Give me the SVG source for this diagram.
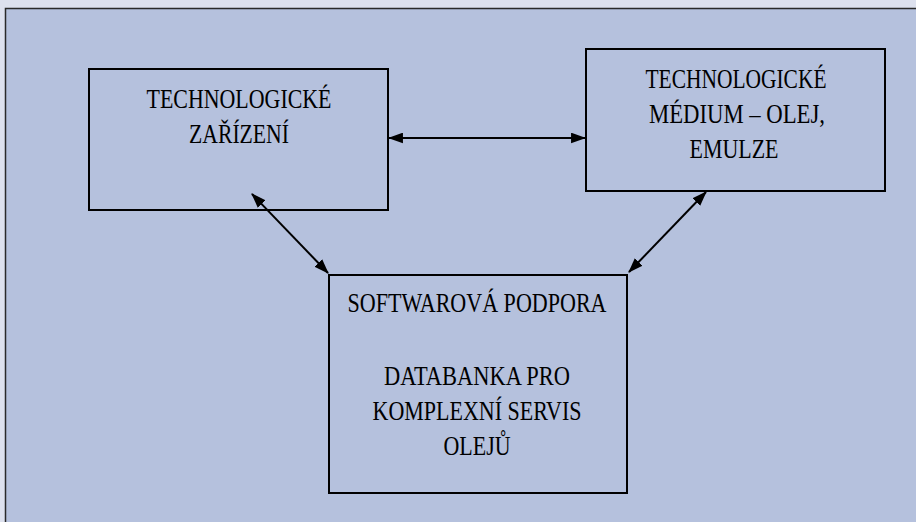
<svg xmlns="http://www.w3.org/2000/svg" width="916" height="522" viewBox="0 0 916 522">
<style>
.box{fill:none;stroke:#000;stroke-width:2}
.t{font-family:"Liberation Serif","Times New Roman",serif;font-size:28px;fill:#000;text-anchor:middle}
.c{stroke:#000;stroke-width:2;fill:none;marker-start:url(#ah);marker-end:url(#ah)}
</style>
<defs>
<marker id="ah" viewBox="0 0 14 10" refX="13" refY="5" markerUnits="userSpaceOnUse" markerWidth="15" markerHeight="11" orient="auto-start-reverse">
<path d="M0,0 L14,5 L0,10 Z" fill="#000"/>
</marker>
</defs>
<rect x="0" y="0" width="916" height="522" fill="#dde1ee"/>
<rect x="5.5" y="8.5" width="920" height="520" fill="#b5c1dd" stroke="#2a2a2a" stroke-width="1.5"/>
<g id="connectors">
<line class="c" x1="389" y1="138" x2="585" y2="138"/>
<line class="c" x1="252" y1="194" x2="328" y2="273"/>
<line class="c" x1="706" y1="192" x2="629" y2="272"/>
</g>
<g id="node-zarizeni">
<rect class="box" x="89" y="69" width="299" height="141"/>
<text class="t" x="239" y="108" textLength="185" lengthAdjust="spacingAndGlyphs">TECHNOLOGICKÉ</text>
<text class="t" x="239" y="143" textLength="100" lengthAdjust="spacingAndGlyphs">ZAŘÍZENÍ</text>
</g>
<g id="node-medium">
<rect class="box" x="586" y="49" width="299" height="142"/>
<text class="t" x="736" y="88" textLength="181" lengthAdjust="spacingAndGlyphs">TECHNOLOGICKÉ</text>
<text class="t" x="737" y="123" textLength="176" lengthAdjust="spacingAndGlyphs">MÉDIUM – OLEJ,</text>
<text class="t" x="734" y="158" textLength="89" lengthAdjust="spacingAndGlyphs">EMULZE</text>
</g>
<g id="node-software">
<rect class="box" x="329" y="275" width="298" height="218"/>
<text class="t" x="477" y="312" textLength="259" lengthAdjust="spacingAndGlyphs">SOFTWAROVÁ PODPORA</text>
<text class="t" x="477" y="385" textLength="186" lengthAdjust="spacingAndGlyphs">DATABANKA PRO</text>
<text class="t" x="477" y="420" textLength="209" lengthAdjust="spacingAndGlyphs">KOMPLEXNÍ SERVIS</text>
<text class="t" x="477" y="455" textLength="67" lengthAdjust="spacingAndGlyphs">OLEJŮ</text>
</g>
</svg>
